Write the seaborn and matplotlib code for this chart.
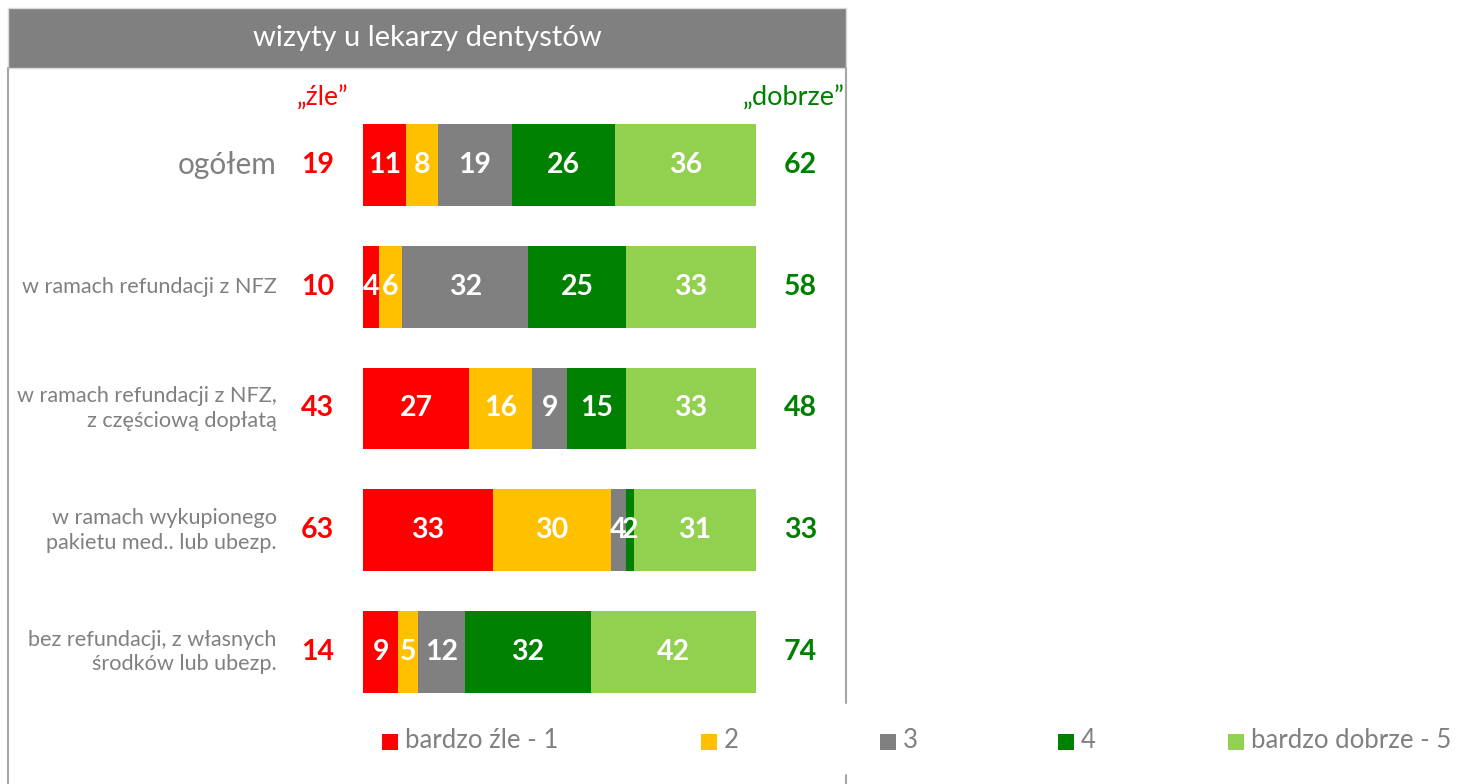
import numpy as np
import pandas as pd
import matplotlib
matplotlib.use("Agg")
import matplotlib.pyplot as plt
import seaborn as sns
from matplotlib.patches import Rectangle
from matplotlib.lines import Line2D

# ---------------- data ----------------
title = "wizyty u lekarzy dentystów"
categories = [
    "ogółem",
    "w ramach refundacji z NFZ",
    "w ramach refundacji z NFZ,\nz częściową dopłatą",
    "w ramach wykupionego\npakietu med.. lub ubezp.",
    "bez refundacji, z własnych\nśrodków lub ubezp.",
]
series_names = ["bardzo źle - 1", "2", "3", "4", "bardzo dobrze - 5"]
v1 = [11, 4, 27, 33, 9]
v2 = [8, 6, 16, 30, 5]
v3 = [19, 32, 9, 4, 12]
v4 = [26, 25, 15, 2, 32]
v5 = [36, 33, 33, 31, 42]
bad_label = "„źle”"
good_label = "„dobrze”"

colors = ["#FF0000", "#FFC000", "#808080", "#008000", "#92D050"]
RED = "#FF0000"
GREEN = "#008000"
GRAY = "#808080"

# ---------------- setup ----------------
sns.set_style("white")
plt.rcParams["font.family"] = ["Lato", "DejaVu Sans"]

W, H = 1464, 784
fig = plt.figure(figsize=(W / 100, H / 100), dpi=100)
ax = fig.add_axes([0, 0, 1, 1])

series = [v1, v2, v3, v4, v5]
df = pd.DataFrame({"cat": categories})
cum = np.cumsum(np.array(series, dtype=float), axis=0)

# stacked bars: draw cumulative totals from largest to smallest
for k in reversed(range(len(series))):
    df["val"] = cum[k]
    sns.barplot(data=df, x="val", y="cat", orient="h", color=colors[k],
                saturation=1, width=0.67, linewidth=0, ax=ax, errorbar=None)

# scale: 0 -> px 363, 100 -> px 756 ; row i center -> px 164 + 121.75*i
sx = 3.93
sy = 121.75
ax.set_xlim(-363 / sx, (W - 363) / sx)
ax.set_ylim((H - 165) / sy, -165 / sy)
ax.axis("off")

NUM_FS = 20.5

# values inside bars
for k, vals in enumerate(series):
    for i, v in enumerate(vals):
        ax.text(cum[k][i] - v / 2, i, str(v), ha="center", va="center",
                color="white", fontsize=NUM_FS, fontweight="bold")

# sums
bad = np.array(v1) + np.array(v2)
good = np.array(v4) + np.array(v5)
for i in range(len(categories)):
    ax.text(-11.5, i, str(bad[i]), ha="center", va="center", color=RED,
            fontsize=NUM_FS, fontweight="bold")
    ax.text(111.3, i, str(good[i]), ha="center", va="center", color=GREEN,
            fontsize=NUM_FS, fontweight="bold")
    fs = 21.5 if i == 0 else 15.6
    ax.text(-22.0, i, categories[i], ha="right", va="center", color=GRAY,
            fontsize=fs, linespacing=1.3)

ax.text(-10.4, -0.55, bad_label, ha="center", va="center", color=RED, fontsize=19)
ax.text(109.7, -0.55, good_label, ha="center", va="center", color=GREEN, fontsize=19.5)

# header box and frame
fig.patches.append(Rectangle((8 / W, 1 - 68 / H), (846 - 8) / W, 60 / H,
                             transform=fig.transFigure, facecolor="#808080",
                             edgecolor="#D9D9D9", linewidth=1))
fig.text(427 / W, 1 - 38 / H, title, ha="center", va="center", color="white",
         fontsize=21)
fig.lines.append(Line2D([8 / W, 8 / W], [0, 1 - 68 / H], transform=fig.transFigure,
                        color="#A6A6A6", linewidth=1.5))
fig.lines.append(Line2D([846 / W, 846 / W], [1 - 703 / H, 1 - 68 / H],
                        transform=fig.transFigure, color="#A6A6A6", linewidth=1.5))
fig.lines.append(Line2D([846 / W, 846 / W], [0, 1 - 775 / H],
                        transform=fig.transFigure, color="#A6A6A6", linewidth=1.5))

# legend (manual, Excel-like spacing)
leg_x = [382, 701, 880, 1058, 1228]
for k, name in enumerate(series_names):
    fig.patches.append(Rectangle((leg_x[k] / W, 1 - 750 / H), 16 / W, 16 / H,
                                 transform=fig.transFigure, facecolor=colors[k],
                                 edgecolor="none"))
    fig.text((leg_x[k] + 23) / W, 1 - 741 / H, name, ha="left", va="center",
             color=GRAY, fontsize=18.5)

fig.savefig("out.png", dpi=100, facecolor="white")
